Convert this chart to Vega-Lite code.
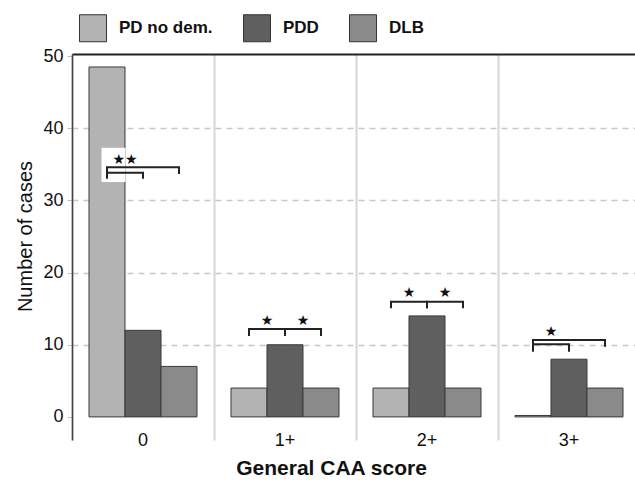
{
  "$schema": "https://vega.github.io/schema/vega-lite/v6.json",
  "width": 568,
  "height": 386,
  "autosize": {"type": "none"},
  "padding": {"left": 72, "top": 54, "right": 0, "bottom": 40},
  "background": "white",
  "config": {"view": {"stroke": null}, "font": "Liberation Sans"},
  "datasets": {
    "bars": [
      {"group": "0", "series": "PD no dem.", "count": 48.5},
      {"group": "0", "series": "PDD", "count": 12},
      {"group": "0", "series": "DLB", "count": 7},
      {"group": "1+", "series": "PD no dem.", "count": 4},
      {"group": "1+", "series": "PDD", "count": 10},
      {"group": "1+", "series": "DLB", "count": 4},
      {"group": "2+", "series": "PD no dem.", "count": 4},
      {"group": "2+", "series": "PDD", "count": 14},
      {"group": "2+", "series": "DLB", "count": 4},
      {"group": "3+", "series": "PD no dem.", "count": 0.2},
      {"group": "3+", "series": "PDD", "count": 8},
      {"group": "3+", "series": "DLB", "count": 4}
    ],
    "box": [
      {"group": "0", "y": 32.55, "y2": 37.3}
    ],
    "brackets": [
      {"bid": "b0L", "group": "0", "series": "PD no dem.", "y": 33.85, "ord": 1},
      {"bid": "b0L", "group": "0", "series": "PD no dem.", "y": 34.6, "ord": 2},
      {"bid": "b0L", "group": "0", "series": "DLB", "y": 34.6, "ord": 3},
      {"bid": "b0L", "group": "0", "series": "DLB", "y": 33.8, "ord": 4},
      {"bid": "b0S", "group": "0", "series": "PD no dem.", "y": 33.15, "ord": 1},
      {"bid": "b0S", "group": "0", "series": "PD no dem.", "y": 33.85, "ord": 2},
      {"bid": "b0S", "group": "0", "series": "PDD", "y": 33.85, "ord": 3},
      {"bid": "b0S", "group": "0", "series": "PDD", "y": 33.15, "ord": 4},
      {"bid": "b1a", "group": "1+", "series": "PD no dem.", "y": 11.35, "ord": 1},
      {"bid": "b1a", "group": "1+", "series": "PD no dem.", "y": 12.18, "ord": 2},
      {"bid": "b1a", "group": "1+", "series": "PDD", "y": 12.18, "ord": 3},
      {"bid": "b1a", "group": "1+", "series": "PDD", "y": 11.35, "ord": 4},
      {"bid": "b1b", "group": "1+", "series": "PDD", "y": 11.35, "ord": 1},
      {"bid": "b1b", "group": "1+", "series": "PDD", "y": 12.18, "ord": 2},
      {"bid": "b1b", "group": "1+", "series": "DLB", "y": 12.18, "ord": 3},
      {"bid": "b1b", "group": "1+", "series": "DLB", "y": 11.35, "ord": 4},
      {"bid": "b2a", "group": "2+", "series": "PD no dem.", "y": 15.19, "ord": 1},
      {"bid": "b2a", "group": "2+", "series": "PD no dem.", "y": 15.97, "ord": 2},
      {"bid": "b2a", "group": "2+", "series": "PDD", "y": 15.97, "ord": 3},
      {"bid": "b2a", "group": "2+", "series": "PDD", "y": 15.19, "ord": 4},
      {"bid": "b2b", "group": "2+", "series": "PDD", "y": 15.19, "ord": 1},
      {"bid": "b2b", "group": "2+", "series": "PDD", "y": 15.97, "ord": 2},
      {"bid": "b2b", "group": "2+", "series": "DLB", "y": 15.97, "ord": 3},
      {"bid": "b2b", "group": "2+", "series": "DLB", "y": 15.19, "ord": 4},
      {"bid": "b3L", "group": "3+", "series": "PD no dem.", "y": 10.06, "ord": 1},
      {"bid": "b3L", "group": "3+", "series": "PD no dem.", "y": 10.66, "ord": 2},
      {"bid": "b3L", "group": "3+", "series": "DLB", "y": 10.66, "ord": 3},
      {"bid": "b3L", "group": "3+", "series": "DLB", "y": 9.87, "ord": 4},
      {"bid": "b3S", "group": "3+", "series": "PD no dem.", "y": 9.18, "ord": 1},
      {"bid": "b3S", "group": "3+", "series": "PD no dem.", "y": 10.06, "ord": 2},
      {"bid": "b3S", "group": "3+", "series": "PDD", "y": 10.06, "ord": 3},
      {"bid": "b3S", "group": "3+", "series": "PDD", "y": 9.18, "ord": 4}
    ],
    "stars": [
      {"group": "0", "series": "PD no dem.", "y": 35.6, "label": "★★"},
      {"group": "1+", "series": "PD no dem.", "y": 13.33, "label": "★"},
      {"group": "1+", "series": "PDD", "y": 13.33, "label": "★"},
      {"group": "2+", "series": "PD no dem.", "y": 17.13, "label": "★"},
      {"group": "2+", "series": "PDD", "y": 17.13, "label": "★"},
      {"group": "3+", "series": "PD no dem.", "y": 11.73, "label": "★"}
    ]
  },
  "layer": [
    {
      "data": {"name": "bars"},
      "mark": {"type": "bar", "stroke": "#3a3a3a", "strokeWidth": 1},
      "encoding": {
        "x": {
          "field": "group", "type": "nominal", "sort": ["0", "1+", "2+", "3+"],
          "scale": {"paddingInner": 0, "paddingOuter": 0},
          "axis": {
            "orient": "bottom", "title": "General CAA score", "labelAngle": 0, "labelPadding": -9,
            "labelFontSize": 18, "labelColor": "#111", "domain": false, "ticks": false,
            "grid": true, "gridColor": "#d6d6d6", "gridWidth": 2, "bandPosition": 0,
            "titleFontSize": 21, "titleFontWeight": "bold", "titleColor": "#111",
            "titleX": 259, "titleY": 17, "titleBaseline": "top"
          }
        },
        "xOffset": {
          "field": "series", "type": "nominal", "sort": ["PD no dem.", "PDD", "DLB"],
          "scale": {"paddingOuter": 0.472, "paddingInner": 0}
        },
        "y": {
          "field": "count", "type": "quantitative",
          "scale": {"domain": [-3.2, 50.3], "nice": false, "zero": false},
          "axis": {
            "title": "Number of cases", "values": [0, 10, 20, 30, 40, 50],
            "labelFontSize": 18, "labelColor": "#111", "labelPadding": 4,
            "tickSize": 5, "tickColor": "#bbbbbb", "domainColor": "#444", "domainWidth": 1.5,
            "grid": true, "gridColor": "#c8c8c8", "gridDash": [6, 5], "gridWidth": 1.5,
            "gridOpacity": {"condition": {"test": "datum.value === 0 || datum.value === 50", "value": 0}, "value": 1},
            "titleFontSize": 20, "titleFontWeight": "normal", "titleColor": "#111",
            "titleX": -41, "titleY": 182, "titleBaseline": "alphabetic", "titleAngle": -90
          }
        },
        "y2": {"datum": 0},
        "fill": {
          "field": "series", "type": "nominal",
          "scale": {"domain": ["PD no dem.", "PDD", "DLB"], "range": ["#b3b3b3", "#5f5f5f", "#8a8a8a"]},
          "legend": {
            "orient": "none", "legendX": 7, "legendY": -40, "direction": "horizontal",
            "title": null, "padding": 0, "symbolType": "square", "symbolSize": 729,
            "symbolStrokeColor": "#333", "symbolStrokeWidth": 1, "symbolOpacity": 1,
            "labelFontSize": 17, "labelFontWeight": "bold", "labelColor": "#111",
            "labelOffset": 12, "columnPadding": 28
          }
        }
      }
    },
    {
      "mark": {"type": "rule", "color": "#999999", "strokeWidth": 2},
      "encoding": {"y": {"datum": 0}}
    },
    {
      "data": {"name": "box"},
      "mark": {"type": "bar", "fill": "white", "width": 24, "xOffset": -29.5},
      "encoding": {
        "x": {
          "field": "group", "type": "nominal", "sort": ["0", "1+", "2+", "3+"],
          "axis": {"orient": "top", "labels": false, "ticks": false, "domain": true, "domainColor": "#222", "domainWidth": 2, "grid": false, "title": null}
        },
        "y": {"field": "y", "type": "quantitative"},
        "y2": {"field": "y2"}
      }
    },
    {
      "data": {"name": "brackets"},
      "mark": {"type": "line", "color": "#222", "strokeWidth": 2, "strokeCap": "square"},
      "encoding": {
        "x": {"field": "group", "type": "nominal", "sort": ["0", "1+", "2+", "3+"], "axis": null},
        "xOffset": {"field": "series", "type": "nominal", "sort": ["PD no dem.", "PDD", "DLB"]},
        "y": {"field": "y", "type": "quantitative"},
        "detail": {"field": "bid"},
        "order": {"field": "ord"}
      }
    },
    {
      "data": {"name": "stars"},
      "mark": {"type": "text", "dx": 18, "fontSize": 14, "font": "DejaVu Sans", "color": "#111", "baseline": "middle"},
      "encoding": {
        "x": {"field": "group", "type": "nominal", "sort": ["0", "1+", "2+", "3+"], "axis": null},
        "xOffset": {"field": "series", "type": "nominal", "sort": ["PD no dem.", "PDD", "DLB"]},
        "y": {"field": "y", "type": "quantitative"},
        "text": {"field": "label"}
      }
    }
  ],
  "resolve": {"axis": {"x": "independent"}}
}
